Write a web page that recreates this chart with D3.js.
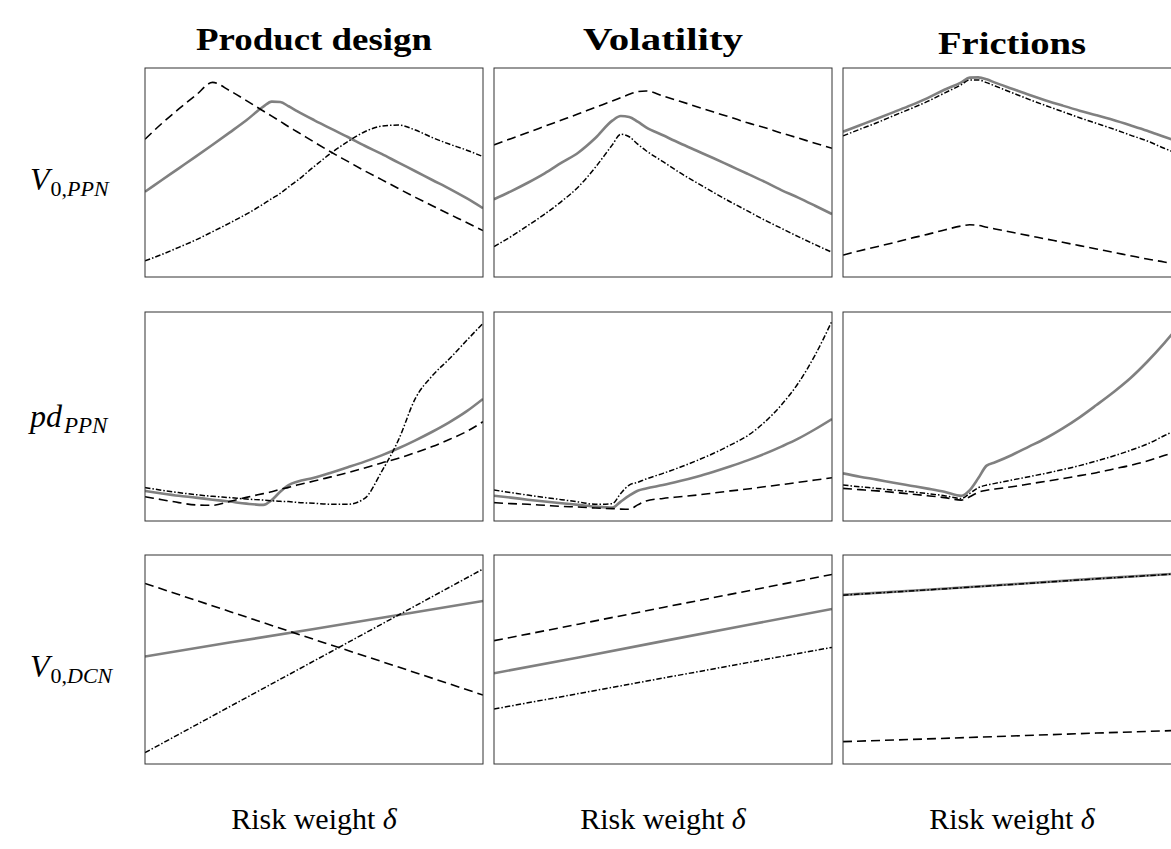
<!DOCTYPE html>
<html>
<head>
<meta charset="utf-8">
<script src="https://cdn.jsdelivr.net/npm/d3@7"></script>
<style>
  html, body { margin: 0; padding: 0; background: #fff; }
  svg { display: block; }
</style>
</head>
<body>
<svg id="chart" width="1171" height="849"></svg>
<script>
// ---------- DATA ----------
const columns = ["Product design", "Volatility", "Frictions"];
const rowLabels = [
  { main: "V", sub: "0,PPN" },
  { main: "pd", sub: "PPN" },
  { main: "V", sub: "0,DCN" }
];
const xLabelText = "Risk weight ";
const xLabelSymbol = "δ";

// risk weight grid (normalised 0..1), finer around the kinks
const delta = [0, 0.05, 0.1, 0.15, 0.2, 0.25, 0.3, 0.35, 0.375, 0.4, 0.425, 0.45, 0.5,
               0.55, 0.6, 0.65, 0.7, 0.75, 0.8, 0.85, 0.9, 0.95, 1];
const deltaCoarse = [0, 0.25, 0.5, 0.75, 1];

// Row 1: V0,PPN
const designV0ppnBase    = [40.8,46.4,52.0,57.6,63.3,69.1,75.0,81.5,83.9,83.7,81.7,79.4,75.1,71.0,67.0,62.8,58.9,54.7,50.6,46.4,42.3,37.8,32.9];
const designV0ppnDashed  = [65.9,73.5,80.4,86.9,93.1,89.2,84.4,79.4,77.0,74.5,71.9,69.5,64.6,59.8,55.3,50.8,46.6,42.3,38.1,34.1,30.1,26.2,22.2];
const designV0ppnDashDot = [7.7,10.8,14.2,17.7,21.7,25.8,30.1,34.9,37.5,40.0,43.1,46.1,52.8,59.2,64.8,69.5,72.2,72.7,70.3,66.7,63.6,60.8,57.6];

const volV0ppnBase    = [37.2,41.0,45.1,49.6,54.7,59.6,66.5,74.8,77.0,76.6,74.3,71.6,67.8,64.0,60.4,56.8,53.1,49.4,45.6,41.6,38.0,34.1,30.1];
const volV0ppnDashed  = [63.2,66.2,69.1,72.1,75.1,78.1,81.2,84.2,85.8,87.4,88.7,89.0,86.6,84.1,81.5,78.9,76.4,73.8,71.5,68.9,66.5,64.0,61.6];
const volV0ppnDashDot = [14.5,19.3,24.6,30.1,36.2,43.2,52.5,63.2,68.3,67.1,63.6,60.4,55.2,49.9,45.1,40.4,35.9,31.6,27.3,23.3,19.3,15.5,11.8];

const fricV0ppnBase    = [69.5,72.6,75.7,78.9,82.1,85.6,89.6,93.1,95.4,95.5,94.6,93.0,90.1,87.2,84.5,82.0,79.6,77.4,75.1,72.6,70.0,67.1,64.3];
const fricV0ppnDashed  = [10.5,12.6,14.5,16.4,18.5,20.4,22.5,24.4,25.0,24.7,23.8,23.0,21.4,19.8,18.2,16.6,15.0,13.4,11.8,10.2,8.6,7.2,5.6];
const fricV0ppnDashDot = [67.5,70.7,73.8,77.2,80.5,84.0,88.0,92.0,94.3,94.3,93.0,91.4,88.2,85.0,82.0,79.1,76.2,73.5,70.8,67.9,65.1,61.6,58.4];

// Row 2: pd_PPN
const designPdBase    = [14.4,13.2,12.1,11.2,10.2,9.3,8.3,7.7,10.0,14.0,17.2,18.8,20.7,23.1,25.7,28.4,31.4,34.8,38.6,42.7,47.2,52.3,58.4];
const designPdDashed  = [11.6,10.2,8.8,7.7,7.5,9.3,11.3,13.1,14.0,15.2,16.1,17.2,19.1,21.1,23.1,25.4,27.8,30.0,32.7,35.6,39.0,42.7,47.5];
const designPdDashDot = [16.0,14.7,13.6,12.6,11.8,11.2,10.5,10.0,9.7,9.4,9.3,8.9,8.5,8.0,8.0,10.8,23.6,38.8,58.7,69.5,77.5,86.1,94.6];

const volPdBase    = [12.1,11.2,10.2,9.3,8.5,7.7,6.9,6.4,9.3,12.1,14.5,15.6,17.2,19.1,21.2,23.6,26.2,29.0,32.1,35.6,39.4,43.9,48.8];
const volPdDashed  = [8.8,8.3,8.0,7.5,7.0,6.7,6.2,5.9,5.7,5.6,7.7,9.6,10.8,11.6,12.4,13.4,14.4,15.3,16.4,17.4,18.5,19.6,20.7];
const volPdDashDot = [14.8,13.6,12.4,11.3,10.2,9.1,8.0,8.3,13.2,17.2,18.5,20.1,22.8,25.7,28.9,32.4,36.4,40.8,47.2,55.5,65.9,79.4,95.7];

const fricPdBase    = [22.8,21.2,19.8,18.3,16.9,15.5,14.0,12.1,14.8,20.4,26.5,28.1,31.6,35.6,39.6,44.3,49.6,55.5,61.6,68.3,76.2,85.0,94.6];
const fricPdDashed  = [15.6,15.0,14.4,13.7,12.9,12.1,11.2,10.0,11.6,13.7,14.7,15.3,16.4,17.7,19.0,20.3,21.7,23.1,24.9,26.6,28.7,31.3,33.7];
const fricPdDashDot = [17.2,16.4,15.6,14.8,14.0,13.1,12.1,10.8,13.2,15.9,17.2,18.0,19.6,21.2,22.8,24.6,26.5,28.7,31.1,33.8,36.8,40.8,44.7];

// Row 3: V0,DCN (straight lines, read at coarse grid)
const designV0dcnBase    = [51.4,58.1,64.6,71.3,78.0];
const designV0dcnDashed  = [86.4,73.0,59.6,46.4,33.0];
const designV0dcnDashDot = [5.4,27.4,49.3,71.3,93.3];

const volV0dcnBase    = [43.4,51.0,58.8,66.5,74.2];
const volV0dcnDashed  = [59.0,66.9,74.9,82.8,90.7];
const volV0dcnDashDot = [26.3,33.7,41.1,48.5,55.8];

const fricV0dcnBase    = [80.9,83.4,86.0,88.7,91.2];
const fricV0dcnDashed  = [10.7,12.0,13.4,14.8,16.1];
const fricV0dcnDashDot = [80.8,83.3,85.9,88.6,91.1];

// ---------- LAYOUT ----------
const panelW = 338, panelH = 209;
const colLeft = [145, 494, 843];
const rowTop = [68, 312, 555];

const grid = [
  [
    { x: delta, s: [designV0ppnBase, designV0ppnDashed, designV0ppnDashDot], curve: d3.curveMonotoneX },
    { x: delta, s: [volV0ppnBase, volV0ppnDashed, volV0ppnDashDot], curve: d3.curveMonotoneX },
    { x: delta, s: [fricV0ppnBase, fricV0ppnDashed, fricV0ppnDashDot], curve: d3.curveMonotoneX }
  ],
  [
    { x: delta, s: [designPdBase, designPdDashed, designPdDashDot], curve: d3.curveMonotoneX },
    { x: delta, s: [volPdBase, volPdDashed, volPdDashDot], curve: d3.curveMonotoneX },
    { x: delta, s: [fricPdBase, fricPdDashed, fricPdDashDot], curve: d3.curveMonotoneX }
  ],
  [
    { x: deltaCoarse, s: [designV0dcnBase, designV0dcnDashed, designV0dcnDashDot], curve: d3.curveLinear },
    { x: deltaCoarse, s: [volV0dcnBase, volV0dcnDashed, volV0dcnDashDot], curve: d3.curveLinear },
    { x: deltaCoarse, s: [fricV0dcnBase, fricV0dcnDashed, fricV0dcnDashDot], curve: d3.curveLinear }
  ]
];

const styles = [
  { stroke: "#808080", width: 2.6, dash: null },
  { stroke: "#000", width: 1.6, dash: "9,5" },
  { stroke: "#000", width: 1.5, dash: "5.5,2,1.5,2" }
];

const svg = d3.select("#chart");
const x = d3.scaleLinear().domain([0, 1]).range([0, panelW]);
const y = d3.scaleLinear().domain([0, 100]).range([panelH, 0]);

const defs = svg.append("defs");
defs.append("clipPath").attr("id", "panelClip")
  .append("rect").attr("x", 0).attr("y", 0).attr("width", panelW).attr("height", panelH);

grid.forEach((row, r) => {
  row.forEach((cell, c) => {
    const g = svg.append("g").attr("transform", `translate(${colLeft[c]},${rowTop[r]})`);
    const inner = g.append("g").attr("clip-path", "url(#panelClip)");
    cell.s.forEach((vals, i) => {
      const line = d3.line()
        .x((d, k) => x(cell.x[k]))
        .y(d => y(d))
        .curve(cell.curve);
      const st = styles[i];
      inner.append("path")
        .datum(vals)
        .attr("d", line)
        .attr("fill", "none")
        .attr("stroke", st.stroke)
        .attr("stroke-width", st.width)
        .attr("stroke-dasharray", st.dash)
        .attr("stroke-linejoin", "round");
    });
    g.append("rect")
      .attr("x", 0).attr("y", 0)
      .attr("width", panelW).attr("height", panelH)
      .attr("fill", "none").attr("stroke", "#333").attr("stroke-width", 1);
  });
});

// column titles
const titleY = [50, 50, 54];
const titleWidth = [236, 160, 148];
columns.forEach((t, c) => {
  svg.append("text")
    .attr("x", colLeft[c] + panelW / 2)
    .attr("y", titleY[c])
    .attr("text-anchor", "middle")
    .attr("font-family", "'Liberation Serif', 'Times New Roman', serif")
    .attr("font-weight", "bold")
    .attr("font-size", 32)
    .attr("textLength", titleWidth[c])
    .attr("lengthAdjust", "spacingAndGlyphs")
    .text(t);
});

// row labels
const rowLabelY = [190, 427, 677];
rowLabels.forEach((lab, r) => {
  const t = svg.append("text")
    .attr("x", 30)
    .attr("y", rowLabelY[r])
    .attr("font-family", "'Liberation Serif', 'Times New Roman', serif")
    .attr("font-size", 32);
  t.append("tspan").attr("font-style", "italic").text(lab.main);
  const parts = lab.sub.split(",");
  if (parts.length === 2) {
    t.append("tspan").attr("font-size", 22).attr("dy", 6).attr("dx", 1).text(parts[0] + ",");
    t.append("tspan").attr("font-size", 22).attr("font-style", "italic").text(parts[1]);
  } else {
    t.append("tspan").attr("font-size", 23).attr("dy", 6).attr("dx", 2).attr("font-style", "italic").text(lab.sub);
  }
});

// x-axis labels
columns.forEach((_, c) => {
  const t = svg.append("text")
    .attr("x", colLeft[c] + panelW / 2)
    .attr("y", 829)
    .attr("text-anchor", "middle")
    .attr("font-family", "'Liberation Serif', 'Times New Roman', serif")
    .attr("font-size", 30);
  t.append("tspan").text(xLabelText);
  t.append("tspan").attr("font-style", "italic").text(xLabelSymbol);
});
</script>
</body>
</html>
